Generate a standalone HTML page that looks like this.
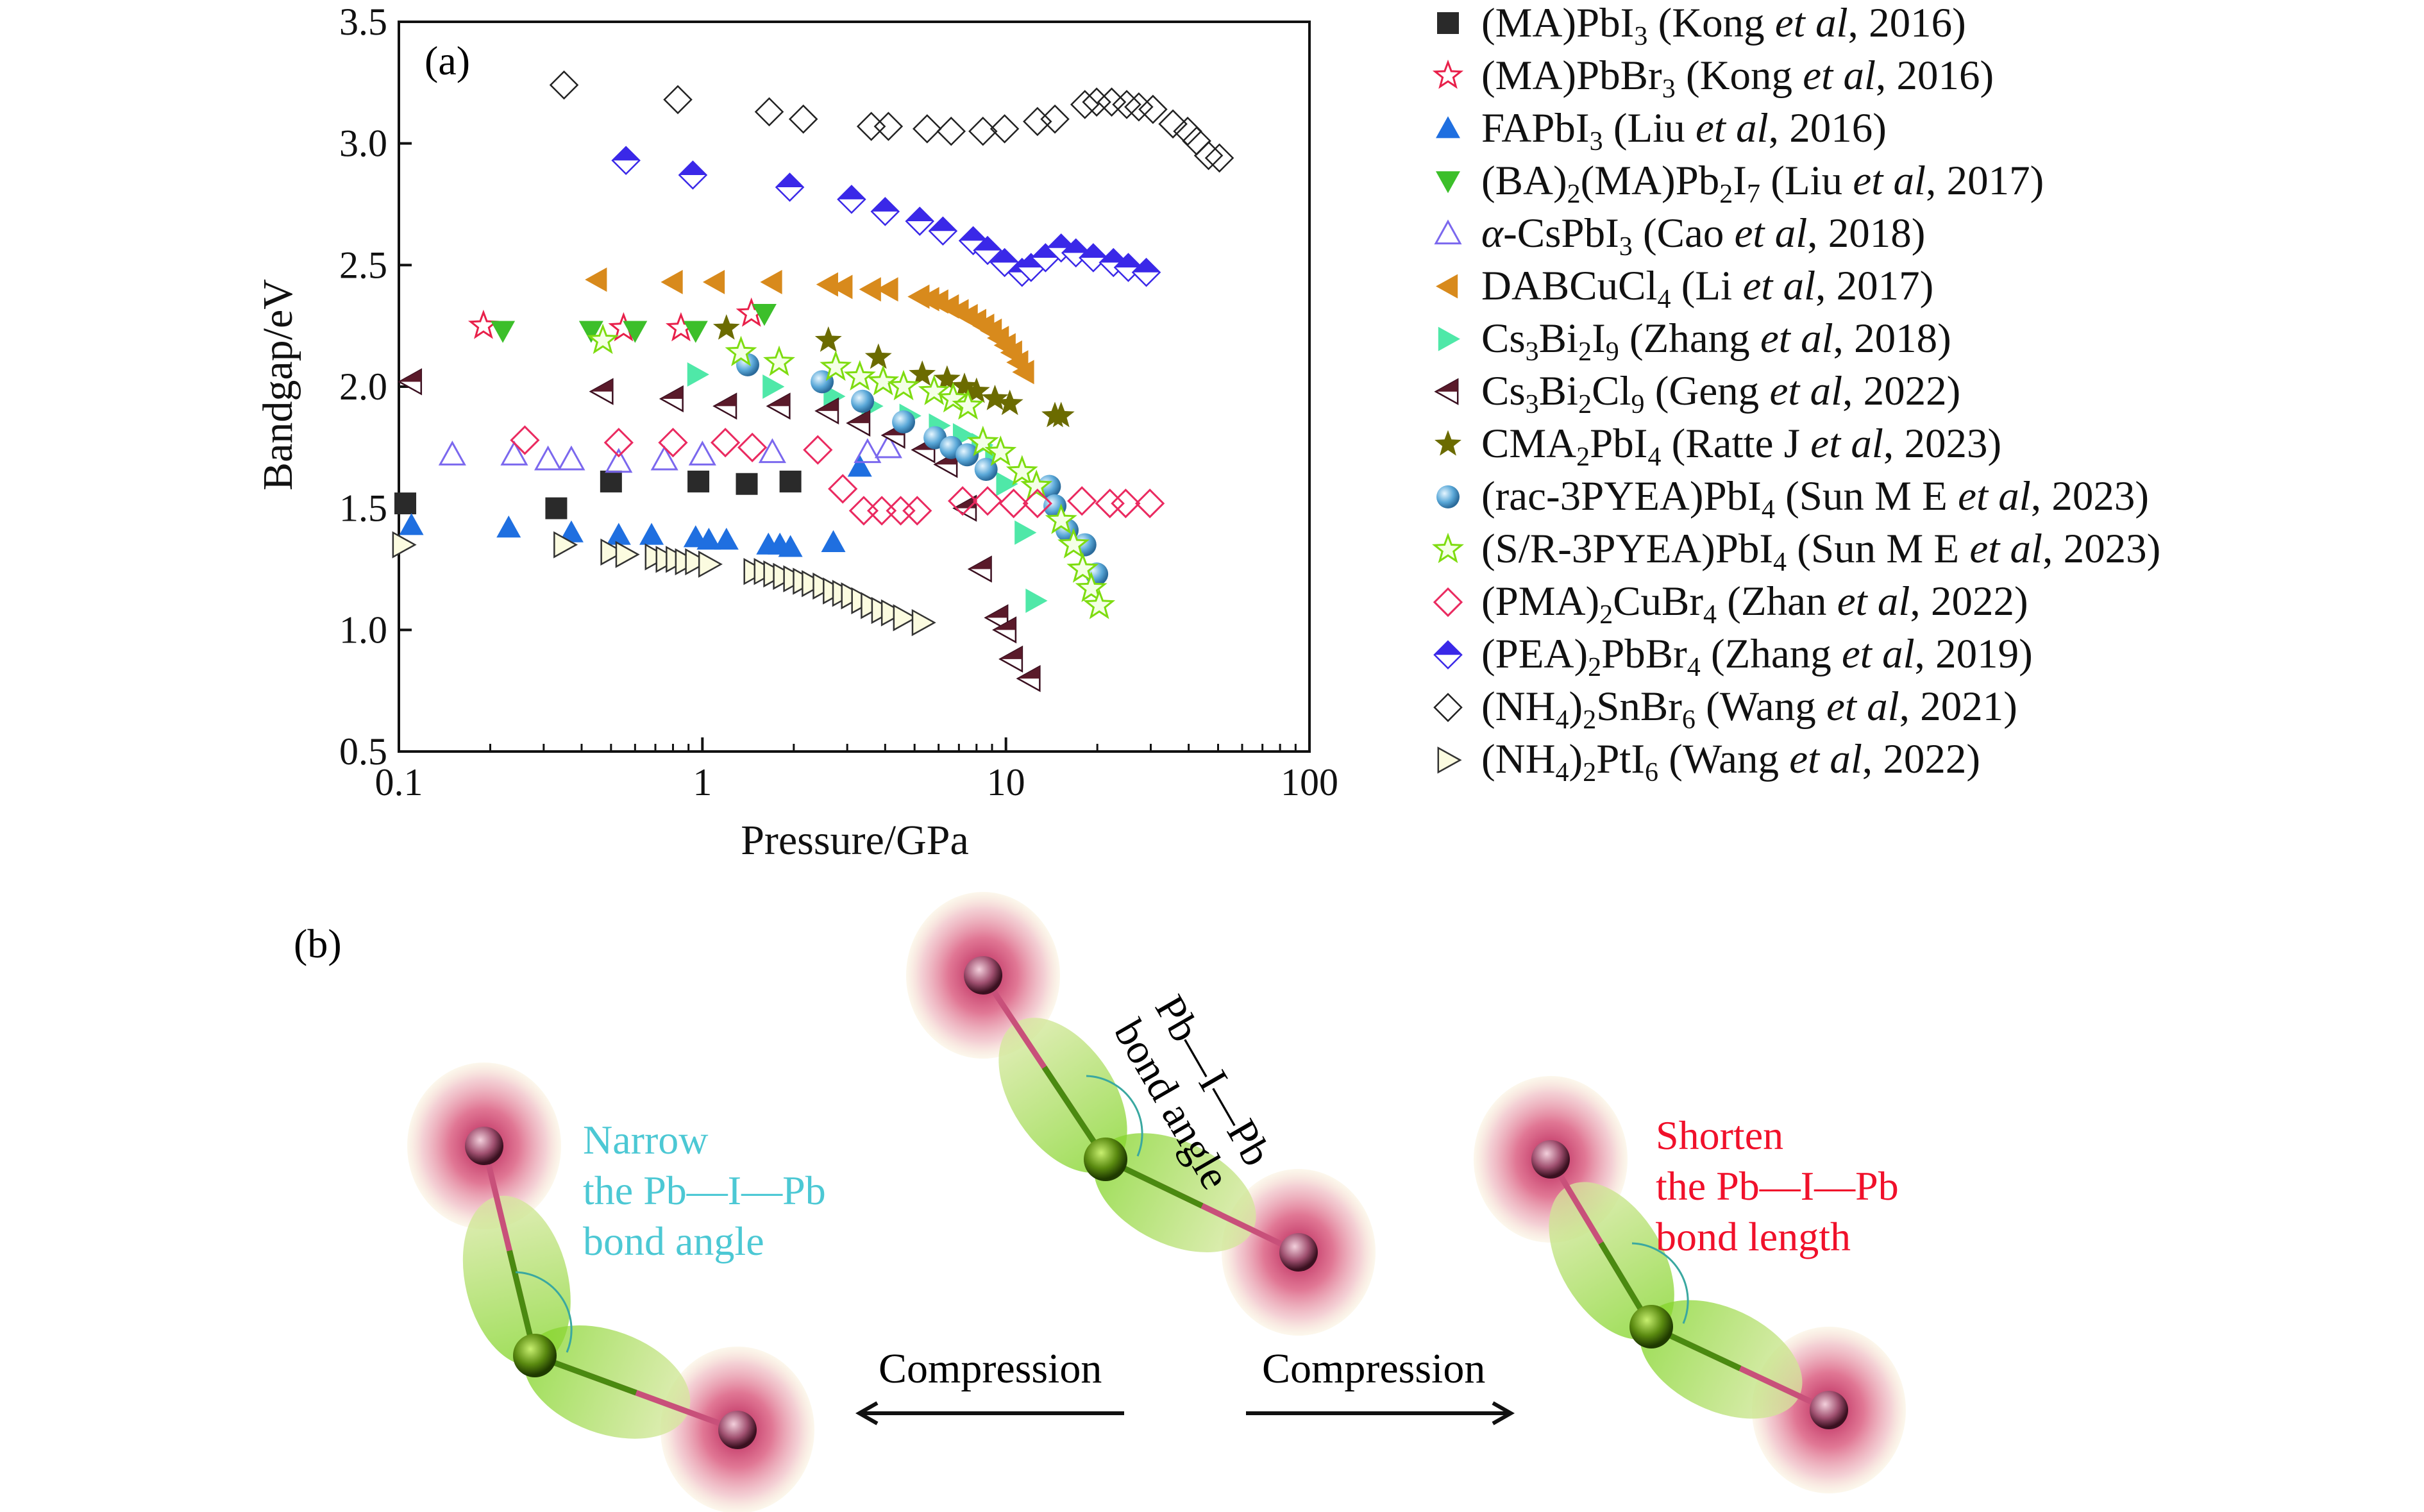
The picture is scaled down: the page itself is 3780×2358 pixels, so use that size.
<!DOCTYPE html>
<html><head><meta charset="utf-8">
<style>
html,body{margin:0;padding:0;background:#fff;}
#wrap{position:relative;width:3780px;height:2358px;overflow:hidden;background:#fff;font-family:"Liberation Serif",serif;}
svg{position:absolute;left:0;top:0;}
.leg{position:absolute;left:2310px;font-size:65px;line-height:65px;white-space:nowrap;color:#111;}
.leg sub{font-size:42px;vertical-align:-13px;line-height:0;}
.t{position:absolute;font-size:64px;white-space:nowrap;}
</style></head>
<body>
<div id="wrap">
<svg id="chart" width="3780" height="2358" viewBox="0 0 3780 2358">
<defs>
<radialGradient id="halo" cx="50%" cy="50%" r="50%">
<stop offset="0" stop-color="#b0104a" stop-opacity="0.95"/>
<stop offset="0.45" stop-color="#d9557a" stop-opacity="0.8"/>
<stop offset="0.8" stop-color="#ecb0b8" stop-opacity="0.6"/>
<stop offset="1" stop-color="#f5e6c0" stop-opacity="0.3"/>
</radialGradient>
<radialGradient id="pbball" cx="40%" cy="35%" r="60%">
<stop offset="0" stop-color="#f3d0dc"/><stop offset="0.6" stop-color="#a05070"/><stop offset="1" stop-color="#3a1020"/>
</radialGradient>
<radialGradient id="iball" cx="40%" cy="35%" r="60%">
<stop offset="0" stop-color="#c8f070"/><stop offset="0.6" stop-color="#5a8a10"/><stop offset="1" stop-color="#1f3a00"/>
</radialGradient>
<linearGradient id="lobe" x1="0" y1="0" x2="1" y2="0">
<stop offset="0" stop-color="#7ed321" stop-opacity="0.75"/><stop offset="1" stop-color="#d8e8a0" stop-opacity="0.75"/>
</linearGradient>
<radialGradient id="sphere" cx="35%" cy="35%" r="65%">
<stop offset="0" stop-color="#e6f6ff"/><stop offset="0.6" stop-color="#5aa8d8"/><stop offset="1" stop-color="#2a6a9a"/>
</radialGradient>
</defs>
<g id="axes"></g>
<g id="marks"></g>
<g id="legendMarks"></g>
<g id="panelb"></g>
</svg>

<div class="leg" style="top:4px">(MA)PbI<sub>3</sub> (Kong <i>et al</i>, 2016)</div>
<div class="leg" style="top:86px">(MA)PbBr<sub>3</sub> (Kong <i>et al</i>, 2016)</div>
<div class="leg" style="top:168px">FAPbI<sub>3</sub> (Liu <i>et al</i>, 2016)</div>
<div class="leg" style="top:250px">(BA)<sub>2</sub>(MA)Pb<sub>2</sub>I<sub>7</sub> (Liu <i>et al</i>, 2017)</div>
<div class="leg" style="top:332px"><i>α</i>-CsPbI<sub>3</sub> (Cao <i>et al</i>, 2018)</div>
<div class="leg" style="top:414px">DABCuCl<sub>4</sub> (Li <i>et al</i>, 2017)</div>
<div class="leg" style="top:496px">Cs<sub>3</sub>Bi<sub>2</sub>I<sub>9</sub> (Zhang <i>et al</i>, 2018)</div>
<div class="leg" style="top:578px">Cs<sub>3</sub>Bi<sub>2</sub>Cl<sub>9</sub> (Geng <i>et al</i>, 2022)</div>
<div class="leg" style="top:660px">CMA<sub>2</sub>PbI<sub>4</sub> (Ratte J <i>et al</i>, 2023)</div>
<div class="leg" style="top:742px">(rac-3PYEA)PbI<sub>4</sub> (Sun M E <i>et al</i>, 2023)</div>
<div class="leg" style="top:824px">(S/R-3PYEA)PbI<sub>4</sub> (Sun M E <i>et al</i>, 2023)</div>
<div class="leg" style="top:906px">(PMA)<sub>2</sub>CuBr<sub>4</sub> (Zhan <i>et al</i>, 2022)</div>
<div class="leg" style="top:988px">(PEA)<sub>2</sub>PbBr<sub>4</sub> (Zhang <i>et al</i>, 2019)</div>
<div class="leg" style="top:1070px">(NH<sub>4</sub>)<sub>2</sub>SnBr<sub>6</sub> (Wang <i>et al</i>, 2021)</div>
<div class="leg" style="top:1152px">(NH<sub>4</sub>)<sub>2</sub>PtI<sub>6</sub> (Wang <i>et al</i>, 2022)</div>

<div class="t" style="left:662px;top:58px;">(a)</div>
<div class="t" style="left:458px;top:1435px;">(b)</div>
<div class="t" style="left:909px;top:1738px;color:#4cc8d4;line-height:79px;">Narrow<br>the Pb—I—Pb<br>bond angle</div>
<div class="t" style="left:2582px;top:1731px;color:#f0102a;line-height:79px;">Shorten<br>the Pb—I—Pb<br>bond length</div>
<div class="t" style="left:1850px;top:1540px;transform:rotate(60deg);transform-origin:0 0;line-height:74px;text-align:center;font-size:66px;">Pb—I—Pb<br>bond angle</div>
<div class="t" style="left:1370px;top:2097px;font-size:66px;">Compression</div>
<div class="t" style="left:1968px;top:2097px;font-size:66px;">Compression</div>
</div>

<script>
// ---- data ----
const mapbi3P=[0.105,0.33,0.5,0.97,1.4,1.95];
const mapbi3E=[1.52,1.5,1.61,1.61,1.6,1.61];
const mapbbr3P=[0.19,0.55,0.85,1.45];
const mapbbr3E=[2.25,2.24,2.24,2.3];
const fapbi3P=[0.11,0.23,0.37,0.53,0.68,0.95,1.05,1.2,1.65,1.8,1.95,2.7,3.3];
const fapbi3E=[1.43,1.42,1.4,1.39,1.39,1.38,1.37,1.37,1.35,1.35,1.34,1.36,1.67];
const baP=[0.22,0.43,0.6,0.95,1.6];
const baE=[2.23,2.23,2.23,2.23,2.3];
const cspbi3P=[0.15,0.24,0.31,0.37,0.53,0.75,1.0,1.7,3.5,4.1];
const cspbi3E=[1.72,1.72,1.7,1.7,1.69,1.7,1.72,1.73,1.73,1.75];
const dabP=[0.45,0.8,1.1,1.7,2.6,2.9,3.6,4.1,5.2,5.6,6,6.5,7,7.5,8,8.5,9,9.5,10,10.5,11,11.5];
const dabE=[2.44,2.43,2.43,2.43,2.42,2.41,2.4,2.4,2.37,2.36,2.35,2.33,2.31,2.29,2.27,2.25,2.23,2.2,2.17,2.14,2.1,2.06];
const csbiiP=[0.96,1.7,2.7,3.6,4.8,6.0,7.2,8.3,9.2,10.0,11.5,12.5];
const csbiiE=[2.05,2.0,1.96,1.92,1.88,1.84,1.8,1.76,1.72,1.6,1.4,1.12];
const csbiclP=[0.11,0.47,0.8,1.2,1.8,2.6,3.3,4.3,5.4,6.4,7.4,8.3,9.4,10,10.5,12];
const csbiclE=[2.02,1.98,1.95,1.92,1.92,1.9,1.85,1.8,1.74,1.68,1.5,1.25,1.05,1.0,0.88,0.8];
const cmaP=[1.2,2.6,3.8,5.3,6.4,7.3,8.0,9.2,10.3,14.5,15.2];
const cmaE=[2.24,2.19,2.12,2.05,2.03,2.0,1.98,1.95,1.93,1.88,1.88];
const racP=[1.41,2.48,3.37,4.6,5.84,6.6,7.45,8.6,13.9,14.5,15.9,18.2,19.9];
const racE=[2.09,2.02,1.94,1.855,1.79,1.75,1.72,1.66,1.59,1.51,1.41,1.35,1.23];
const srP=[0.47,1.34,1.79,2.75,3.3,3.94,4.6,5.8,6.7,7.5,8.4,9.6,11.3,12.6,15.2,16.7,17.9,19.1,20.3];
const srE=[2.19,2.14,2.1,2.08,2.04,2.02,2.0,1.98,1.95,1.92,1.77,1.73,1.65,1.59,1.45,1.35,1.25,1.17,1.1];
const pmaP=[0.26,0.53,0.8,1.19,1.46,2.4,2.9,3.4,3.9,4.5,5.1,7.2,8.7,10.6,12.7,17.8,22,24.8,29.8];
const pmaE=[1.78,1.77,1.77,1.77,1.75,1.74,1.58,1.49,1.49,1.49,1.49,1.53,1.53,1.52,1.52,1.53,1.52,1.52,1.52];
const peaP=[0.56,0.93,1.94,3.1,4.0,5.2,6.2,7.8,8.7,9.9,11.3,12.1,13.5,15.2,17,19.4,22.6,25.3,29];
const peaE=[2.93,2.87,2.82,2.77,2.72,2.68,2.64,2.6,2.56,2.51,2.47,2.49,2.53,2.57,2.55,2.53,2.51,2.49,2.47];
const snP=[0.35,0.83,1.66,2.15,3.6,4.1,5.5,6.6,8.4,9.9,12.7,14.5,18.2,19.9,22.3,25,27.4,30.5,35.5,39.7,42.5,46.5,50.5];
const snE=[3.24,3.18,3.13,3.1,3.07,3.07,3.06,3.05,3.05,3.06,3.09,3.1,3.16,3.17,3.17,3.16,3.15,3.14,3.08,3.05,3.01,2.95,2.94];
const ptP=[0.103,0.35,0.5,0.56,0.7,0.76,0.82,0.88,0.95,1.05,1.48,1.6,1.72,1.85,2.0,2.15,2.3,2.5,2.7,2.9,3.1,3.35,3.6,3.9,4.2,4.6,5.3];
const ptE=[1.35,1.35,1.32,1.31,1.3,1.29,1.29,1.28,1.28,1.27,1.24,1.24,1.23,1.22,1.21,1.2,1.19,1.18,1.16,1.15,1.14,1.12,1.1,1.08,1.07,1.05,1.03];
const yTicks=[0.5,1.0,1.5,2.0,2.5,3.0,3.5];
const yTickLabels=["0.5","1.0","1.5","2.0","2.5","3.0","3.5"];
const xTicks=[0.1,1,10,100];
const xTickLabels=["0.1","1","10","100"];

// ---- axes ----
const L=622,R=2042,T=34,B=1172;
const xs=p=>L+(Math.log10(p)+1)/3*(R-L);
const ys=e=>B-(e-0.5)/3*(B-T);
const NS='http://www.w3.org/2000/svg';
function mk(tag,attrs,parent){const el=document.createElementNS(NS,tag);for(const k in attrs)el.setAttribute(k,attrs[k]);parent.appendChild(el);return el;}
const ax=document.getElementById('axes');
const frame=mk('rect',{x:L,y:T,width:R-L,height:B-T,fill:'none',stroke:'#111','stroke-width':4},ax);


yTicks.forEach((v,i)=>{
  const y=ys(v);
  mk('line',{x1:L,x2:L+20,y1:y,y2:y,stroke:'#111','stroke-width':4},ax);
  const t=mk('text',{x:L-18,y:y+20,'text-anchor':'end','font-size':60,'font-family':'Liberation Serif, serif',fill:'#111'},ax);
  t.textContent=yTickLabels[i];
  
  
});
for(let d=-1;d<2;d++){for(let m=2;m<10;m++){const x=xs(m*Math.pow(10,d));mk('line',{x1:x,x2:x,y1:B,y2:B-12,stroke:'#111','stroke-width':3},ax);}}
xTicks.forEach((v,i)=>{
  const x=xs(v);
  mk('line',{x1:x,x2:x,y1:B,y2:B-22,stroke:'#111','stroke-width':4},ax);
  const t=mk('text',{x:x,y:B+68,'text-anchor':'middle','font-size':60,'font-family':'Liberation Serif, serif',fill:'#111'},ax);
  t.textContent=xTickLabels[i];
  
  
});
const xt=mk('text',{x:1333,y:1332,'text-anchor':'middle','font-size':66,'font-family':'Liberation Serif, serif',fill:'#111'},ax);
xt.textContent='Pressure/GPa';


const yt=mk('text',{x:0,y:0,'text-anchor':'middle','font-size':66,'font-family':'Liberation Serif, serif',fill:'#111',transform:'translate(455,600) rotate(-90)'},ax);
yt.textContent='Bandgap/eV';



// ---- markers ----
const s=19;
function star(x,y,r){let pts=[];for(let i=0;i<10;i++){const a=-Math.PI/2+i*Math.PI/5;const rr=i%2?r*0.42:r;pts.push((x+rr*Math.cos(a)).toFixed(1)+','+(y+rr*Math.sin(a)).toFixed(1));}return pts.join(' ');}
function drawMarker(g,type,x,y){
  switch(type){
    case 'square': mk('rect',{x:x-s+2,y:y-s+2,width:2*s-4,height:2*s-4,fill:'#2a2a2a'},g);break;
    case 'redstar': mk('polygon',{points:star(x,y,s+2),fill:'#fff','stroke':'#e8204a','stroke-width':3},g);break;
    case 'uptri': mk('polygon',{points:`${x},${y-s} ${x+s},${y+s*0.8} ${x-s},${y+s*0.8}`,fill:'#1f6fe0'},g);break;
    case 'downtri': mk('polygon',{points:`${x-s},${y-s*0.8} ${x+s},${y-s*0.8} ${x},${y+s}`,fill:'#3cbf2a'},g);break;
    case 'opentri': mk('polygon',{points:`${x},${y-s} ${x+s},${y+s*0.8} ${x-s},${y+s*0.8}`,fill:'none',stroke:'#7b68ee','stroke-width':3},g);break;
    case 'lefttri': mk('polygon',{points:`${x-s},${y} ${x+s*0.8},${y-s} ${x+s*0.8},${y+s}`,fill:'#d88a1c'},g);break;
    case 'righttri': mk('polygon',{points:`${x+s},${y} ${x-s*0.8},${y-s} ${x-s*0.8},${y+s}`,fill:'#4fe8a8'},g);break;
    case 'halflt':
      mk('polygon',{points:`${x-s},${y} ${x+s*0.8},${y-s} ${x+s*0.8},${y+s}`,fill:'#fff',stroke:'#3a1020','stroke-width':2.5},g);
      mk('polygon',{points:`${x-s},${y} ${x+s*0.8},${y-s} ${x+s*0.8},${y}`,fill:'#5a1a2a'},g);break;
    case 'olivestar': mk('polygon',{points:star(x,y,s+3),fill:'#6b6b00'},g);break;
    case 'sphere': mk('circle',{cx:x,cy:y,r:s-1,fill:'url(#sphere)'},g);break;
    case 'greenstar': mk('polygon',{points:star(x,y,s+3),fill:'#f4ffe6',stroke:'#7edc10','stroke-width':3},g);break;
    case 'reddiamond': mk('polygon',{points:`${x},${y-s-2} ${x+s+2},${y} ${x},${y+s+2} ${x-s-2},${y}`,fill:'none',stroke:'#ea2a60','stroke-width':3},g);break;
    case 'halfdiamond':
      mk('polygon',{points:`${x},${y-s-2} ${x+s+2},${y} ${x},${y+s+2} ${x-s-2},${y}`,fill:'#fff',stroke:'#3a28e8','stroke-width':2.5},g);
      mk('polygon',{points:`${x},${y-s-2} ${x+s+2},${y} ${x-s-2},${y}`,fill:'#3a28e8'},g);break;
    case 'blackdiamond': mk('polygon',{points:`${x},${y-s-2} ${x+s+2},${y} ${x},${y+s+2} ${x-s-2},${y}`,fill:'none',stroke:'#222','stroke-width':2.5},g);break;
    case 'openright': mk('polygon',{points:`${x+s},${y} ${x-s*0.8},${y-s} ${x-s*0.8},${y+s}`,fill:'#fbfbe0',stroke:'#333','stroke-width':2.5},g);break;
  }
}
const series=[
 ['mapbi3',mapbi3P,mapbi3E,'square'],
 ['mapbbr3',mapbbr3P,mapbbr3E,'redstar'],
 ['fapbi3',fapbi3P,fapbi3E,'uptri'],
 ['ba2mapb2i7',baP,baE,'downtri'],
 ['cspbi3',cspbi3P,cspbi3E,'opentri'],
 ['dabcucl4',dabP,dabE,'lefttri'],
 ['cs3bi2i9',csbiiP,csbiiE,'righttri'],
 ['cs3bi2cl9',csbiclP,csbiclE,'halflt'],
 ['cma2pbi4',cmaP,cmaE,'olivestar'],
 ['rac-3pyea',racP,racE,'sphere'],
 ['sr-3pyea',srP,srE,'greenstar'],
 ['pma2cubr4',pmaP,pmaE,'reddiamond'],
 ['pea2pbbr4',peaP,peaE,'halfdiamond'],
 ['nh4-2snbr6',snP,snE,'blackdiamond'],
 ['nh4-2pti6',ptP,ptE,'openright']
];
const marks=document.getElementById('marks');
const lm=document.getElementById('legendMarks');
series.forEach((sr,si)=>{
  const g=mk('g',{},marks);
  
  
  sr[1].forEach((p,i)=>{
    const pg=mk('g',{},g);
    
    
    drawMarker(pg,sr[3],xs(p),ys(sr[2][i]));
  });
  const lg=mk('g',{},lm);
  
  
  drawMarker(lg,sr[3],2258,36+82.1*si);
});

// ---- panel b ----
const pb=document.getElementById('panelb');
function molecule(name,top,mid,bot){
  const g=mk('g',{},pb);
  
  
  [top,bot].forEach(c=>mk('ellipse',{cx:c[0],cy:c[1],rx:120,ry:130,fill:'url(#halo)'},g));
  const a1=Math.atan2(top[1]-mid[1],top[0]-mid[0])*180/Math.PI;
  const a2=Math.atan2(bot[1]-mid[1],bot[0]-mid[0])*180/Math.PI;
  mk('ellipse',{cx:0,cy:0,rx:135,ry:80,fill:'url(#lobe)',transform:`translate(${mid[0]},${mid[1]}) rotate(${a1}) translate(120,0)`},g);
  mk('ellipse',{cx:0,cy:0,rx:135,ry:80,fill:'url(#lobe)',transform:`translate(${mid[0]},${mid[1]}) rotate(${a2}) translate(120,0)`},g);
  mk('line',{x1:top[0],y1:top[1],x2:mid[0],y2:mid[1],stroke:'#c8507a','stroke-width':9},g);
  mk('line',{x1:(top[0]+mid[0])/2,y1:(top[1]+mid[1])/2,x2:mid[0],y2:mid[1],stroke:'#4a8a10','stroke-width':9},g);
  mk('line',{x1:bot[0],y1:bot[1],x2:mid[0],y2:mid[1],stroke:'#c8507a','stroke-width':9},g);
  mk('line',{x1:(bot[0]+mid[0])/2,y1:(bot[1]+mid[1])/2,x2:mid[0],y2:mid[1],stroke:'#4a8a10','stroke-width':9},g);
  mk('path',{d:`M ${mid[0]-30} ${mid[1]-130} A 90 90 0 0 1 ${mid[0]+50} ${mid[1]-5}`,fill:'none',stroke:'#3aa8a0','stroke-width':3},g);
  [top,bot].forEach(c=>mk('circle',{cx:c[0],cy:c[1],r:30,fill:'url(#pbball)'},g));
  mk('circle',{cx:mid[0],cy:mid[1],r:34,fill:'url(#iball)'},g);
}
molecule('molecule-left',[755,1787],[834,2114],[1150,2230]);
molecule('molecule-middle',[1533,1521],[1724,1808],[2025,1953]);
molecule('molecule-right',[2418,1808],[2575,2069],[2852,2199]);
function arrow(name,x1,x2,y){
  const g=mk('g',{},pb);
  
  
  mk('line',{x1:x1,y1:y,x2:x2,y2:y,stroke:'#111','stroke-width':6},g);
  const d=x2>x1?-1:1;
  mk('polyline',{points:`${x2+d*28},${y-16} ${x2},${y} ${x2+d*28},${y+16}`,fill:'none',stroke:'#111','stroke-width':6},g);
}
arrow('compression-arrow-left',1753,1340,2204);
arrow('compression-arrow-right',1943,2356,2204);
</script>
</body></html>
